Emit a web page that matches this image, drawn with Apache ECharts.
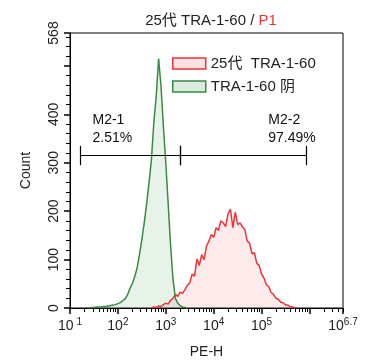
<!DOCTYPE html>
<html><head><meta charset="utf-8">
<script src="https://cdn.jsdelivr.net/npm/echarts@6/dist/echarts.min.js"></script>
<style>html,body{margin:0;padding:0;background:#fff}#c{width:368px;height:364px}</style>
</head><body><div id="c"></div>
<script>
// x values are log10(PE-H)
const redX = [2.70,2.75,2.80,2.85,2.90,2.95,3.00,3.05,3.10,3.15,3.20,3.25,3.30,3.35,3.40,3.45,3.50,3.55,3.60,3.65,3.70,3.75,3.80,3.85,3.90,3.95,4.00,4.05,4.10,4.15,4.20,4.25,4.30,4.35,4.40,4.45,4.50,4.55,4.60,4.65,4.70,4.75,4.80,4.85,4.90,4.95,5.00,5.05,5.10,5.15,5.20,5.25,5.30,5.35,5.40,5.45,5.50,5.55,5.60,5.65,5.70];
const redY = [0,2,1,4,3,7,10,8,16,20,28,24,33,30,38,47,52,70,66,101,88,110,100,128,138,152,146,166,160,180,176,168,195,204,166,198,172,176,168,162,138,134,112,114,92,88,70,62,48,44,32,28,20,18,12,11,6,6,2,2,0];
const greenX = [1.40,1.45,1.50,1.55,1.60,1.65,1.70,1.75,1.80,1.85,1.90,1.95,2.00,2.05,2.10,2.15,2.20,2.25,2.30,2.35,2.40,2.45,2.50,2.55,2.60,2.65,2.70,2.75,2.80,2.85,2.90,2.95,3.00,3.05,3.10,3.15,3.20,3.25,3.30,3.35,3.40,3.45];
const greenY = [0,1,1,2,2,2,3,3,4,5,6,7,9,11,15,19,27,40,50,64,82,110,141,176,215,259,306,383,437,515,459,375,300,215,130,60,20,10,5,2,1,0];
const seriesNames = ['25代  TRA-1-60', 'TRA-1-60 阴'];
const xMajor = [1,2,3,4,5,6,6.7];
const xLabels = [1,2,3,4,5,6.7];
const yLabels = [0,100,200,300,400,568];
const yMajor = [0,100,200,300,400,500,568];
const gates = [{name:'M2-1', pct:'2.51%', from:1.21, to:3.30, level:315}, {name:'M2-2', pct:'97.49%', from:3.31, to:5.94, level:315}];
const gateText = [[1.47, 369], [5.14, 369]];

const xMinor = [];
for (let d = 1; d <= 6; d++) for (let k = 2; k <= 9; k++) { const v = d + Math.log10(k); if (v < 6.7) xMinor.push(+v.toFixed(4)); }
const yMinor = [];
for (let v = 20; v < 568; v += 20) if (v % 100) yMinor.push(v);

const FF = "'Liberation Sans', Arial, 'Noto Sans CJK SC', sans-serif";
const chart = echarts.init(document.getElementById('c'));
const zip = (xs, ys) => xs.map((x, i) => [x, ys[i]]);
const markSegs = [];
gates.forEach(g => {
  markSegs.push([{coord:[g.from, g.level]}, {coord:[g.to, g.level]}]);
  markSegs.push([{coord:[g.from, g.level-20]}, {coord:[g.from, g.level+20]}]);
  markSegs.push([{coord:[g.to, g.level-20]}, {coord:[g.to, g.level+20]}]);
});
const gridBox = {left: 70, top: 33, right: 25, bottom: 56};
const hiddenAxis = {axisLine: {show: false}, axisLabel: {show: false}, splitLine: {show: false}};
chart.setOption({
  animation: false,
  textStyle: {fontFamily: FF},
  title: {
    text: '{a|25代 TRA-1-60 / }{b|P1}',
    left: 206, top: 8, textAlign: 'center',
    textStyle: {fontWeight: 'normal', rich: {a: {fontSize: 15, color: '#222', fontWeight: 'normal', fontFamily: FF}, b: {fontSize: 15, color: '#e8363a', fontWeight: 'normal', fontFamily: FF}}}
  },
  legend: {
    orient: 'vertical', left: 167, top: 51, itemWidth: 33, itemHeight: 11, itemGap: 8,
    icon: 'rect',
    textStyle: {fontSize: 15, color: '#222', fontFamily: FF},
    data: [
      {name: seriesNames[0], itemStyle: {color: '#fbe1e1', borderColor: '#e8363a', borderWidth: 1.5}},
      {name: seriesNames[1], itemStyle: {color: '#dcece0', borderColor: '#3a8a44', borderWidth: 1.5}}
    ]
  },
  grid: [
    Object.assign({show: true, borderColor: '#000', borderWidth: 1}, gridBox),
    Object.assign({show: false}, gridBox),
    Object.assign({show: false}, gridBox)
  ],
  xAxis: [{
    gridIndex: 0, type: 'value', min: 1, max: 6.7, position: 'bottom',
    axisLine: {show: true, onZero: false, lineStyle: {color: '#000', width: 1}},
    axisTick: {show: false},
    splitLine: {show: false},
    axisLabel: {
      customValues: xLabels, margin: 9, color: '#222',
      formatter: v => '{b|10}{s|' + (v === 1 ? ' ' : '') + v + '}',
      rich: {b: {fontSize: 14, color: '#222', fontFamily: FF}, s: {fontSize: 10, color: '#222', padding: [0,0,9,0], fontFamily: FF}}
    },
    name: 'PE-H', nameLocation: 'middle', nameGap: 37,
    nameTextStyle: {fontSize: 14, color: '#222', fontFamily: FF}
  }, Object.assign({
    gridIndex: 1, type: 'value', min: 1, max: 6.7, position: 'bottom',
    axisTick: {show: true, length: 4, customValues: xMinor, lineStyle: {color: '#000', width: 1}}
  }, hiddenAxis), Object.assign({
    gridIndex: 2, type: 'value', min: 1, max: 6.7, position: 'bottom',
    axisTick: {show: true, length: 6, customValues: xMajor, lineStyle: {color: '#000', width: 1.5}}
  }, hiddenAxis)],
  yAxis: [{
    gridIndex: 0, type: 'value', min: 0, max: 568, interval: 100,
    axisLine: {show: true, onZero: false, lineStyle: {color: '#000'}},
    axisTick: {show: false},
    splitLine: {show: false},
    axisLabel: {customValues: yLabels, rotate: 90, margin: 9, fontSize: 14, color: '#222'},
    name: 'Count', nameLocation: 'middle', nameGap: 37, nameRotate: 90,
    nameTextStyle: {fontSize: 14, color: '#222', fontFamily: FF}
  }, Object.assign({
    gridIndex: 1, type: 'value', min: 0, max: 568, position: 'left',
    axisTick: {show: true, length: 4, customValues: yMinor, lineStyle: {color: '#000', width: 1}}
  }, hiddenAxis), Object.assign({
    gridIndex: 2, type: 'value', min: 0, max: 568, position: 'left',
    axisTick: {show: true, length: 6, customValues: yMajor, lineStyle: {color: '#000', width: 1.5}}
  }, hiddenAxis)],
  series: [{
    name: seriesNames[0], type: 'line', data: zip(redX, redY), showSymbol: false,
    lineStyle: {color: '#e8363a', width: 1.5}, itemStyle: {color: '#e8363a'},
    areaStyle: {color: 'rgba(240,120,120,0.22)'}
  }, {
    name: seriesNames[1], type: 'line', data: zip(greenX, greenY), showSymbol: false,
    lineStyle: {color: '#3a8a44', width: 1.5}, itemStyle: {color: '#3a8a44'},
    areaStyle: {color: 'rgba(120,180,130,0.25)'}
  }, {
    name: 'gates', type: 'scatter', symbolSize: 0, silent: true,
    itemStyle: {color: '#000', opacity: 1},
    data: gateText.map((p, i) => ({value: p, label: {formatter: gates[i].name + '\n' + gates[i].pct}})),
    label: {show: true, position: 'right', distance: 0, fontSize: 14, lineHeight: 18, color: '#111', opacity: 1, fontFamily: FF},
    markLine: {silent: true, symbol: 'none', label: {show: false}, lineStyle: {color: '#000', width: 1.2, type: 'solid', opacity: 1}, data: markSegs}
  }]
});
</script></body></html>
